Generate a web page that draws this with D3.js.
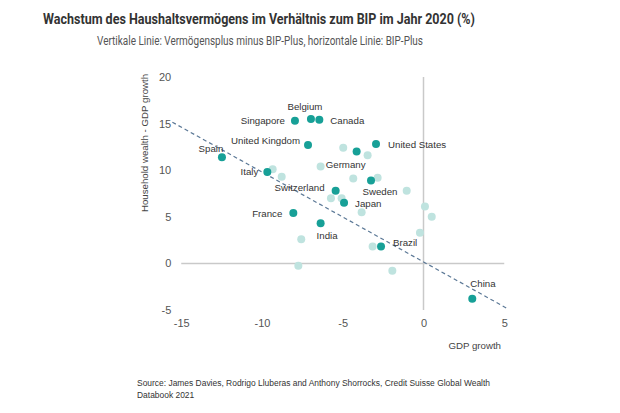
<!DOCTYPE html>
<html>
<head>
<meta charset="utf-8">
<script src="https://cdn.jsdelivr.net/npm/d3@7"></script>
<style>
  html, body { margin: 0; padding: 0; background: #ffffff; }
  svg { display: block; }
</style>
</head>
<body>
<svg id="chart" width="620" height="413"></svg>
<script>
// ---- data ----
const titleText = "Wachstum des Haushaltsvermögens im Verhältnis zum BIP im Jahr 2020 (%)";
const subtitleText = "Vertikale Linie: Vermögensplus minus BIP-Plus, horizontale Linie: BIP-Plus";
const sourceLines = [
  "Source: James Davies, Rodrigo Lluberas and Anthony Shorrocks, Credit Suisse Global Wealth",
  "Databook 2021"
];
const xTitle = "GDP growth";
const yTitle = "Household wealth - GDP growth";

const countries   = ["Singapore", "Belgium", "Canada", "United Kingdom", "Spain", "Italy", "Germany", "United States", "Sweden", "Switzerland", "Japan", "France", "India", "Brazil", "China"];
const countryGdp  = [-7.96, -6.97, -6.45, -7.15, -12.48, -9.67, -4.14, -2.94, -3.25, -5.44, -4.92, -8.06, -6.37, -2.63, 3.02];
const countryDiff = [15.3, 15.5, 15.4, 12.7, 11.4, 9.8, 12.0, 12.8, 8.9, 7.8, 6.5, 5.4, 4.3, 1.8, -3.8];

const otherGdp  = [-9.34, -8.78, -6.37, -4.97, -3.46, -4.35, -2.84, -1.04, -5.73, -5.07, -3.83, 0.09, 0.51, -0.22, -3.15, -1.93, -7.57, -7.75];
const otherDiff = [10.1, 9.3, 10.4, 12.4, 11.6, 9.1, 9.2, 7.8, 7.0, 7.0, 5.5, 6.1, 5.0, 3.3, 1.8, -0.8, 2.6, -0.25];

const trendX = [-15.55, 5.25];
const trendY = [15.15, -4.9];

const xTicks = [-15, -10, -5, 0, 5];
const yTicks = [-5, 0, 5, 10, 15, 20];

// ---- layout ----
const svg = d3.select("#chart");
const x = d3.scaleLinear().domain([-15, 5]).range([181.25, 504.25]);
const y = d3.scaleLinear().domain([-5, 20]).range([310, 77]);

const darkColor = "#17a097";
const lightColor = "#bfe3df";

// title & subtitle
svg.append("text")
  .attr("x", 259).attr("y", 24)
  .attr("text-anchor", "middle")
  .attr("font-family", "Roboto, sans-serif")
  .attr("font-weight", "bold")
  .attr("font-size", 15)
  .attr("fill", "#333333")
  .attr("textLength", 432)
  .attr("lengthAdjust", "spacingAndGlyphs")
  .text(titleText);

svg.append("text")
  .attr("x", 260).attr("y", 45)
  .attr("text-anchor", "middle")
  .attr("font-family", "Roboto, sans-serif")
  .attr("font-size", 12.5)
  .attr("fill", "#555555")
  .attr("textLength", 326)
  .attr("lengthAdjust", "spacingAndGlyphs")
  .text(subtitleText);

// reference lines
svg.append("line")
  .attr("x1", x(-15)).attr("x2", x(5))
  .attr("y1", y(0)).attr("y2", y(0))
  .attr("stroke", "#c9c9c9").attr("stroke-width", 1.5);
svg.append("line")
  .attr("x1", x(0)).attr("x2", x(0))
  .attr("y1", y(-5)).attr("y2", y(20))
  .attr("stroke", "#c9c9c9").attr("stroke-width", 1.5);

// axes (labels only)
const fmt = d => String(d);
const gx = svg.append("g")
  .attr("transform", `translate(0,${y(-5)})`)
  .call(d3.axisBottom(x).tickValues(xTicks).tickFormat(fmt).tickSize(0).tickPadding(9));
const gy = svg.append("g")
  .attr("transform", `translate(${x(-15)},0)`)
  .call(d3.axisLeft(y).tickValues(yTicks).tickFormat(fmt).tickSize(0).tickPadding(10));
[gx, gy].forEach(g => {
  g.select(".domain").remove();
  g.selectAll("text")
    .attr("font-family", "'Liberation Sans', Arial, sans-serif")
    .attr("font-size", 11)
    .attr("fill", "#555555");
});

// axis titles
svg.append("text")
  .attr("x", 501).attr("y", 349)
  .attr("text-anchor", "end")
  .attr("font-family", "'Liberation Sans', Arial, sans-serif")
  .attr("font-size", 9.7)
  .attr("fill", "#444444")
  .text(xTitle);
svg.append("text")
  .attr("transform", "translate(148,143) rotate(-90)")
  .attr("text-anchor", "middle")
  .attr("font-family", "'Liberation Sans', Arial, sans-serif")
  .attr("font-size", 9.7)
  .attr("fill", "#444444")
  .text(yTitle);

// trend line
svg.append("line")
  .attr("x1", x(trendX[0])).attr("y1", y(trendY[0]))
  .attr("x2", x(trendX[1])).attr("y2", y(trendY[1]))
  .attr("stroke", "#5b7896").attr("stroke-width", 1.2)
  .attr("stroke-dasharray", "4,3");

// light points
svg.append("g").selectAll("circle")
  .data(otherGdp.map((g, i) => ({ g, d: otherDiff[i] })))
  .join("circle")
  .attr("cx", p => x(p.g)).attr("cy", p => y(p.d))
  .attr("r", 4).attr("fill", lightColor);

// dark points
const dark = countries.map((name, i) => ({ name, g: countryGdp[i], d: countryDiff[i] }));
svg.append("g").selectAll("circle")
  .data(dark)
  .join("circle")
  .attr("cx", p => x(p.g)).attr("cy", p => y(p.d))
  .attr("r", 4).attr("fill", darkColor);

// label placement (offsets from point, in px)
const labelPlace = {
  "Singapore":      { dx: -10, dy: 0,   anchor: "end" },
  "Belgium":        { dx: -6,  dy: -12, anchor: "middle" },
  "Canada":         { dx: 11,  dy: 1,   anchor: "start" },
  "United Kingdom": { dx: -8,  dy: -4,  anchor: "end" },
  "Spain":          { dx: -11, dy: -9,  anchor: "middle" },
  "Italy":          { dx: -9,  dy: 0,   anchor: "end" },
  "Germany":        { dx: -11, dy: 13,  anchor: "middle" },
  "United States":  { dx: 12,  dy: 1,   anchor: "start" },
  "Sweden":         { dx: 9,   dy: 11,  anchor: "middle" },
  "Switzerland":    { dx: -11, dy: -3,  anchor: "end" },
  "Japan":          { dx: 11,  dy: 1,   anchor: "start" },
  "France":         { dx: -11, dy: 1,   anchor: "end" },
  "India":          { dx: -4,  dy: 12,  anchor: "start" },
  "Brazil":         { dx: 12,  dy: -4,  anchor: "start" },
  "China":          { dx: -2,  dy: -15, anchor: "start" }
};

svg.append("g").selectAll("text")
  .data(dark)
  .join("text")
  .attr("x", p => x(p.g) + labelPlace[p.name].dx)
  .attr("y", p => y(p.d) + labelPlace[p.name].dy)
  .attr("dy", "0.35em")
  .attr("text-anchor", p => labelPlace[p.name].anchor)
  .attr("font-family", "'Liberation Sans', Arial, sans-serif")
  .attr("font-size", 9.7)
  .attr("fill", "#333333")
  .text(p => p.name);

// source
svg.append("g").selectAll("text")
  .data(sourceLines)
  .join("text")
  .attr("x", 137)
  .attr("y", (d, i) => 386 + i * 11.6)
  .attr("font-family", "'Liberation Sans', Arial, sans-serif")
  .attr("font-size", 8.45)
  .attr("fill", "#333333")
  .text(d => d);
</script>
</body>
</html>
